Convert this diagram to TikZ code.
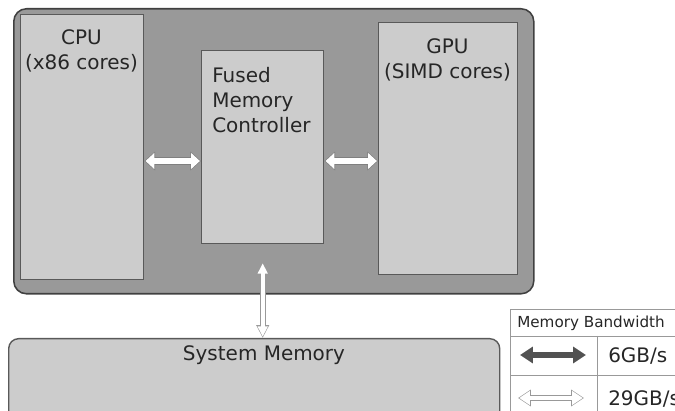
\documentclass[tikz,border=0pt]{standalone}
\usepackage{fontspec}
\setmainfont{DejaVu Sans}
\usetikzlibrary{positioning,arrows.meta}

% one unit of the drawing grid
\newcommand{\px}{0.025cm}

\begin{document}
\begin{tikzpicture}[x=\px, y=-\px,
    chipbox/.style={draw=black!75, fill=black!40, line width=1.1pt,
        rounded corners=9pt, anchor=north west, inner sep=0pt},
    unit/.style={draw=black!65, fill=black!20, line width=1pt,
        anchor=north west, inner sep=0pt},
    lbl/.style={inner sep=0pt, text=black!85, font=\fontsize{14.2}{17.8}\selectfont},
    legline/.style={draw=black!40, line width=0.7pt},
    busout/.style={line width=5.2pt, draw=black!50,
        {Triangle[length=7.6pt,width=13pt]}-{Triangle[length=7.6pt,width=13pt]}},
    busin/.style={line width=3.8pt, draw=white, shorten <=0.8pt, shorten >=0.8pt,
        {Triangle[length=6.2pt,width=11pt]}-{Triangle[length=6.2pt,width=11pt]}},
    memout/.style={line width=4.3pt, draw=black!40,
        {Triangle[length=9.2pt,width=8.6pt]}-{Triangle[length=9.2pt,width=8.6pt]}},
    memin/.style={line width=3pt, draw=white, shorten <=0.9pt, shorten >=0.9pt,
        {Triangle[length=7.4pt,width=6.8pt]}-{Triangle[length=7.4pt,width=6.8pt]}}
]
    \useasboundingbox (0,0) rectangle (675,411);
    \clip (0,0) rectangle (675,411);

    % the chip and its parts
    \node[chipbox, minimum width=520*\px, minimum height=285*\px] (apu) at (13,8) {};
    \node[unit, minimum width=123*\px, minimum height=265*\px] (cpu) at (20,14) {};
    \node[unit, minimum width=122*\px, minimum height=193*\px] (fmc) at (201,50) {};
    \node[unit, minimum width=139*\px, minimum height=252*\px] (gpu) at (378,22) {};

    \node[lbl, anchor=north, align=center] (cputxt) at (81.5,29) {CPU\\(x86 cores)};
    \node[lbl, anchor=north west, align=left] (fmctxt) at (212,67) {Fused\\Memory\\Controller};
    \node[lbl, anchor=north, align=center] (gputxt) at (447.5,38) {GPU\\(SIMD cores)};

    % memory below the chip
    \node[unit, rounded corners=7pt, minimum width=491*\px, minimum height=110*\px] (sysmem) at (8,338) {};
    \node[lbl, anchor=base] (memtxt) at (264,360) {System Memory};

    % links
    \draw[busout] (cpu.east |- 0,161) -- (fmc.west |- 0,161);
    \draw[busin]  (cpu.east |- 0,161) -- (fmc.west |- 0,161);
    \draw[busout] (fmc.east |- 0,161) -- (gpu.west |- 0,161);
    \draw[busin]  (fmc.east |- 0,161) -- (gpu.west |- 0,161);

    \coordinate (memtop) at (fmc.south |- 0,262);
    \draw[memout] (memtop) -- (fmc.south |- sysmem.north);
    \draw[memin]  (memtop) -- (fmc.south |- sysmem.north);

    % bandwidth legend
    \draw[legline] (510,430) -- (510,309) -- (690,309);
    \draw[legline] (510,336) -- (690,336);
    \draw[legline] (510,375) -- (690,375);
    \draw[legline] (597,336) -- (597,430);

    \node[anchor=base west, inner sep=0pt, text=black!85,
        font=\fontsize{10.8}{12.5}\selectfont] (bwhead) at (517,328) {Memory Bandwidth};
    \node[lbl, anchor=base west] (slowtxt) at (608,362.5) {6GB/s};
    \node[lbl, anchor=base west] (fasttxt) at (608,405) {29GB/s};

    \coordinate (slowl) at (520,355);
    \coordinate (slowr) at (586,355);
    \draw[line width=4.3pt, draw=black!68,
        {Triangle[length=9.2pt,width=11.4pt]}-{Triangle[length=9.2pt,width=11.4pt]}] (slowl) -- (slowr);

    \coordinate (fastl) at (518,398);
    \coordinate (fastr) at (584,398);
    \draw[memout, {Triangle[length=9.2pt,width=11.4pt]}-{Triangle[length=9.2pt,width=11.4pt]}] (fastl) -- (fastr);
    \draw[memin, {Triangle[length=7.6pt,width=9.6pt]}-{Triangle[length=7.6pt,width=9.6pt]}] (fastl) -- (fastr);
\end{tikzpicture}
\end{document}
